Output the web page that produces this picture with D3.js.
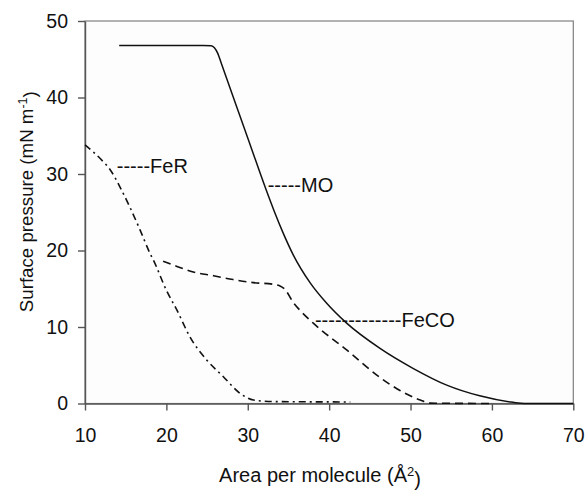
<!DOCTYPE html>
<html>
<head>
<meta charset="utf-8">
<script src="https://cdn.jsdelivr.net/npm/d3@7"></script>
<style>
  html, body { margin: 0; padding: 0; background: #ffffff; }
  svg { display: block; font-family: "Liberation Sans", Arial, sans-serif; }
</style>
</head>
<body>
<svg id="chart" width="587" height="490"></svg>
<script>
// ---- data ----
const xTicks = [10, 20, 30, 40, 50, 60, 70];
const yTicks = [0, 10, 20, 30, 40, 50];

const moArea = [14.2, 20, 24.5, 25.5, 25.9, 26.3, 26.8, 28.2, 30.3, 32.2, 33.3, 34.3, 35.6, 37.65, 39.7, 42.15, 46.25, 50.3, 54.45, 58.5, 62.6, 64.0, 70];
const moPressure = [46.8, 46.8, 46.8, 46.75, 46.5, 45.8, 44.3, 40.1, 33.8, 28.1, 25.0, 22.4, 19.4, 15.8, 13.1, 10.5, 7.2, 4.6, 2.4, 1.0, 0.15, 0.0, 0.0];

const fecoArea = [19.6, 20.85, 23.3, 25.8, 28.2, 30.7, 33.0, 33.9, 34.5, 35.6, 36.4, 38.05, 42.15, 46.25, 48.7, 51.2, 52.4, 60];
const fecoPressure = [18.6, 18.1, 17.2, 16.7, 16.2, 15.8, 15.6, 15.4, 15.0, 13.2, 12.2, 10.5, 7.0, 3.4, 1.7, 0.45, 0.05, 0.0];

const ferArea = [10, 12.25, 13.07, 14.3, 15.5, 16.76, 18.0, 18.4, 20.0, 21.3, 22.9, 24.95, 27.0, 29.05, 30.7, 33.1, 42.6];
const ferPressure = [33.8, 31.6, 30.6, 28.3, 25.7, 22.7, 19.6, 18.76, 14.8, 12.2, 8.7, 5.7, 3.5, 1.33, 0.45, 0.25, 0.2];

const labelText = ["-----FeR", "-----MO", "-------------FeCO"];
const labelArea = [13.9, 32.45, 38.25];
const labelPressure = [30.1, 27.65, 10.0];

// ---- layout ----
const W = 587, H = 490;
const margin = { left: 85, right: 13.7, top: 21, bottom: 86.5 };

const svg = d3.select("#chart");

const x = d3.scaleLinear().domain([10, 70]).range([margin.left, W - margin.right]);
const y = d3.scaleLinear().domain([0, 50]).range([H - margin.bottom, margin.top]);

// frame
svg.append("rect")
  .attr("x", x(10)).attr("y", y(50))
  .attr("width", x(70) - x(10)).attr("height", y(0) - y(50))
  .attr("fill", "#fdfdfd").attr("stroke", "#808080").attr("stroke-width", 1.2);

// axes
const xAxis = svg.append("g")
  .attr("transform", `translate(0,${y(0)})`)
  .call(d3.axisBottom(x).tickValues(xTicks).tickSize(7).tickSizeOuter(0).tickPadding(17.5).tickFormat(d3.format("d")));
const yAxis = svg.append("g")
  .attr("transform", `translate(${x(10)},0)`)
  .call(d3.axisLeft(y).tickValues(yTicks).tickSize(7).tickSizeOuter(0).tickPadding(10).tickFormat(d3.format("d")));

[xAxis, yAxis].forEach(g => {
  g.selectAll("path.domain").attr("stroke", "#555").attr("stroke-width", 1.4);
  g.selectAll(".tick line").attr("stroke", "#555").attr("stroke-width", 1.4);
  g.selectAll(".tick text").attr("fill", "#111").style("font-size", "19.5px")
    .style("font-family", '"Liberation Sans", Arial, sans-serif');
});

// lines
const line = d3.line().x(d => x(d[0])).y(d => y(d[1])).curve(d3.curveMonotoneX);
const zip = (a, b) => a.map((v, i) => [v, b[i]]);

svg.append("path").datum(zip(ferArea, ferPressure))
  .attr("d", line).attr("fill", "none").attr("stroke", "#111").attr("stroke-width", 1.6)
  .attr("stroke-dasharray", "7,4,2,4");
svg.append("path").datum(zip(fecoArea, fecoPressure))
  .attr("d", line).attr("fill", "none").attr("stroke", "#111").attr("stroke-width", 1.6)
  .attr("stroke-dasharray", "8,5");
svg.append("path").datum(zip(moArea, moPressure))
  .attr("d", line).attr("fill", "none").attr("stroke", "#111").attr("stroke-width", 1.5);

// annotations
labelText.forEach((t, i) => {
  svg.append("text")
    .attr("x", x(labelArea[i])).attr("y", y(labelPressure[i]))
    .attr("fill", "#111").style("font-size", "20px")
    .text(t);
});

// axis titles
const xt = svg.append("text")
  .attr("x", 320).attr("y", 482)
  .attr("text-anchor", "middle").attr("fill", "#111").style("font-size", "20px");
xt.append("tspan").text("Area per molecule (Å");
xt.append("tspan").attr("dy", "-0.5em").style("font-size", "13px").text("2");
xt.append("tspan").attr("dy", "0.5em").text(")");

const yt = svg.append("text")
  .attr("transform", "translate(33.3,201.7) rotate(-90)")
  .attr("text-anchor", "middle").attr("fill", "#111").style("font-size", "18.7px");
yt.append("tspan").text("Surface pressure (mN m");
yt.append("tspan").attr("dy", "-0.5em").style("font-size", "12.5px").text("-1");
yt.append("tspan").attr("dy", "0.5em").text(")");
</script>
</body>
</html>
